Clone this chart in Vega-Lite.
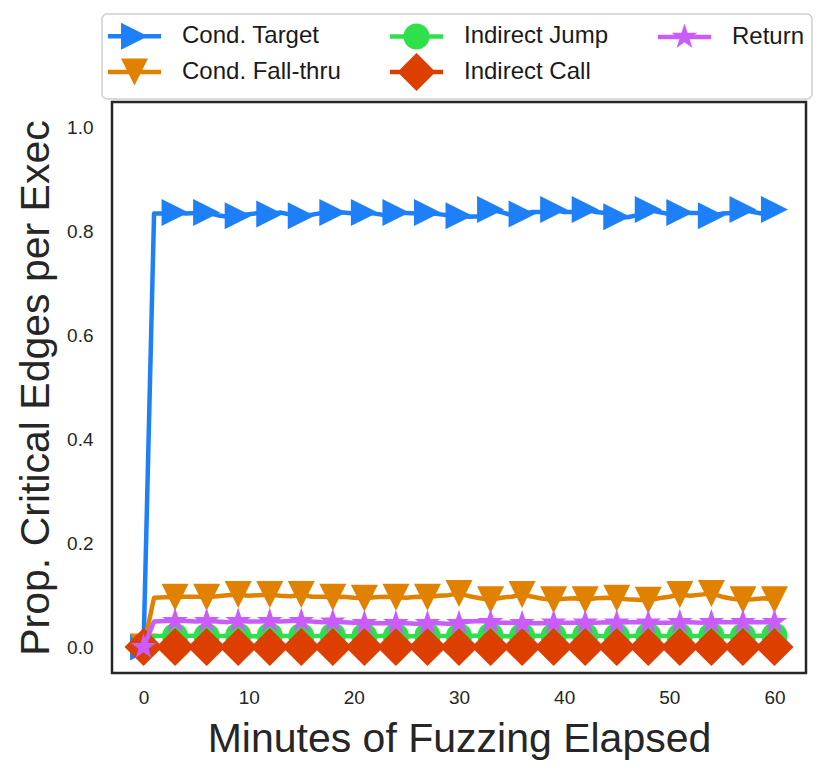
{
  "$schema": "https://vega.github.io/schema/vega-lite/v6.json",
  "width": 694,
  "height": 571,
  "autosize": {"type": "none"},
  "padding": {"left": 112, "top": 102, "right": 24, "bottom": 102},
  "background": "white",
  "config": {
    "font": "Liberation Sans",
    "view": {"stroke": "#262626", "strokeWidth": 2.5},
    "axis": {
      "grid": false,
      "domain": false,
      "ticks": false,
      "tickSize": 0,
      "labelFont": "Liberation Sans",
      "labelFontSize": 19,
      "labelColor": "#262626",
      "titleFont": "Liberation Sans",
      "titleFontSize": 41,
      "titleFontWeight": "normal",
      "titleColor": "#262626"
    },
    "legend": {
      "orient": "none",
      "legendX": -10,
      "legendY": -88,
      "direction": "horizontal",
      "columns": 3,
      "padding": 7,
      "fillColor": "white",
      "strokeColor": "#cfcfcf",
      "strokeWidth": 1.5,
      "cornerRadius": 5,
      "symbolSize": 900,
      "symbolStrokeWidth": 0,
      "symbolOpacity": 1,
      "labelFont": "Liberation Sans",
      "labelFontSize": 24,
      "labelColor": "#1a1a1a",
      "labelOffset": 43,
      "labelLimit": 300,
      "columnPadding": 48,
      "rowPadding": 2
    }
  },
  "datasets": {
    "target": [
      {"minute": 0, "value": 0}, {"minute": 1, "value": 0.835}, {"minute": 2, "value": 0.835}, {"minute": 3, "value": 0.837},
      {"minute": 4, "value": 0.835}, {"minute": 5, "value": 0.836}, {"minute": 6, "value": 0.837}, {"minute": 7, "value": 0.832},
      {"minute": 8, "value": 0.829}, {"minute": 9, "value": 0.831}, {"minute": 10, "value": 0.834}, {"minute": 11, "value": 0.836},
      {"minute": 12, "value": 0.834}, {"minute": 13, "value": 0.837}, {"minute": 14, "value": 0.833}, {"minute": 15, "value": 0.831},
      {"minute": 16, "value": 0.833}, {"minute": 17, "value": 0.836}, {"minute": 18, "value": 0.837}, {"minute": 19, "value": 0.837},
      {"minute": 20, "value": 0.835}, {"minute": 21, "value": 0.837}, {"minute": 22, "value": 0.835}, {"minute": 23, "value": 0.832},
      {"minute": 24, "value": 0.837}, {"minute": 25, "value": 0.836}, {"minute": 26, "value": 0.835}, {"minute": 27, "value": 0.837},
      {"minute": 28, "value": 0.834}, {"minute": 29, "value": 0.832}, {"minute": 30, "value": 0.831}, {"minute": 31, "value": 0.829},
      {"minute": 32, "value": 0.830}, {"minute": 33, "value": 0.843}, {"minute": 34, "value": 0.838}, {"minute": 35, "value": 0.832},
      {"minute": 36, "value": 0.834}, {"minute": 37, "value": 0.838}, {"minute": 38, "value": 0.838}, {"minute": 39, "value": 0.843},
      {"minute": 40, "value": 0.838}, {"minute": 41, "value": 0.838}, {"minute": 42, "value": 0.843}, {"minute": 43, "value": 0.838},
      {"minute": 44, "value": 0.836}, {"minute": 45, "value": 0.829}, {"minute": 46, "value": 0.828}, {"minute": 47, "value": 0.832},
      {"minute": 48, "value": 0.843}, {"minute": 49, "value": 0.838}, {"minute": 50, "value": 0.834}, {"minute": 51, "value": 0.837},
      {"minute": 52, "value": 0.836}, {"minute": 53, "value": 0.836}, {"minute": 54, "value": 0.831}, {"minute": 55, "value": 0.835},
      {"minute": 56, "value": 0.836}, {"minute": 57, "value": 0.843}, {"minute": 58, "value": 0.838}, {"minute": 59, "value": 0.834},
      {"minute": 60, "value": 0.843}
    ],
    "fallthru": [
      {"minute": 0, "value": 0}, {"minute": 1, "value": 0.095}, {"minute": 2, "value": 0.096}, {"minute": 3, "value": 0.096},
      {"minute": 4, "value": 0.097}, {"minute": 5, "value": 0.097}, {"minute": 6, "value": 0.096}, {"minute": 7, "value": 0.098},
      {"minute": 8, "value": 0.100}, {"minute": 9, "value": 0.101}, {"minute": 10, "value": 0.099}, {"minute": 11, "value": 0.100},
      {"minute": 12, "value": 0.101}, {"minute": 13, "value": 0.099}, {"minute": 14, "value": 0.098}, {"minute": 15, "value": 0.101},
      {"minute": 16, "value": 0.097}, {"minute": 17, "value": 0.097}, {"minute": 18, "value": 0.096}, {"minute": 19, "value": 0.097},
      {"minute": 20, "value": 0.095}, {"minute": 21, "value": 0.094}, {"minute": 22, "value": 0.096}, {"minute": 23, "value": 0.097},
      {"minute": 24, "value": 0.096}, {"minute": 25, "value": 0.095}, {"minute": 26, "value": 0.097}, {"minute": 27, "value": 0.096},
      {"minute": 28, "value": 0.099}, {"minute": 29, "value": 0.100}, {"minute": 30, "value": 0.103}, {"minute": 31, "value": 0.098},
      {"minute": 32, "value": 0.094}, {"minute": 33, "value": 0.091}, {"minute": 34, "value": 0.095}, {"minute": 35, "value": 0.097},
      {"minute": 36, "value": 0.101}, {"minute": 37, "value": 0.097}, {"minute": 38, "value": 0.093}, {"minute": 39, "value": 0.091},
      {"minute": 40, "value": 0.093}, {"minute": 41, "value": 0.094}, {"minute": 42, "value": 0.091}, {"minute": 43, "value": 0.094},
      {"minute": 44, "value": 0.095}, {"minute": 45, "value": 0.094}, {"minute": 46, "value": 0.092}, {"minute": 47, "value": 0.091},
      {"minute": 48, "value": 0.090}, {"minute": 49, "value": 0.094}, {"minute": 50, "value": 0.097}, {"minute": 51, "value": 0.101},
      {"minute": 52, "value": 0.099}, {"minute": 53, "value": 0.101}, {"minute": 54, "value": 0.103}, {"minute": 55, "value": 0.097},
      {"minute": 56, "value": 0.093}, {"minute": 57, "value": 0.091}, {"minute": 58, "value": 0.092}, {"minute": 59, "value": 0.094},
      {"minute": 60, "value": 0.091}
    ],
    "jump": [
      {"minute": 0, "value": 0}, {"minute": 1, "value": 0.021}, {"minute": 2, "value": 0.022}, {"minute": 3, "value": 0.021},
      {"minute": 4, "value": 0.022}, {"minute": 5, "value": 0.022}, {"minute": 6, "value": 0.021}, {"minute": 7, "value": 0.021},
      {"minute": 8, "value": 0.022}, {"minute": 9, "value": 0.022}, {"minute": 10, "value": 0.021}, {"minute": 11, "value": 0.021},
      {"minute": 12, "value": 0.022}, {"minute": 13, "value": 0.022}, {"minute": 14, "value": 0.021}, {"minute": 15, "value": 0.021},
      {"minute": 16, "value": 0.021}, {"minute": 17, "value": 0.022}, {"minute": 18, "value": 0.022}, {"minute": 19, "value": 0.021},
      {"minute": 20, "value": 0.021}, {"minute": 21, "value": 0.021}, {"minute": 22, "value": 0.021}, {"minute": 23, "value": 0.022},
      {"minute": 24, "value": 0.021}, {"minute": 25, "value": 0.021}, {"minute": 26, "value": 0.021}, {"minute": 27, "value": 0.022},
      {"minute": 28, "value": 0.022}, {"minute": 29, "value": 0.021}, {"minute": 30, "value": 0.021}, {"minute": 31, "value": 0.022},
      {"minute": 32, "value": 0.022}, {"minute": 33, "value": 0.022}, {"minute": 34, "value": 0.021}, {"minute": 35, "value": 0.021},
      {"minute": 36, "value": 0.021}, {"minute": 37, "value": 0.022}, {"minute": 38, "value": 0.022}, {"minute": 39, "value": 0.021},
      {"minute": 40, "value": 0.021}, {"minute": 41, "value": 0.021}, {"minute": 42, "value": 0.022}, {"minute": 43, "value": 0.022},
      {"minute": 44, "value": 0.021}, {"minute": 45, "value": 0.021}, {"minute": 46, "value": 0.021}, {"minute": 47, "value": 0.022},
      {"minute": 48, "value": 0.022}, {"minute": 49, "value": 0.022}, {"minute": 50, "value": 0.021}, {"minute": 51, "value": 0.021},
      {"minute": 52, "value": 0.021}, {"minute": 53, "value": 0.022}, {"minute": 54, "value": 0.022}, {"minute": 55, "value": 0.021},
      {"minute": 56, "value": 0.021}, {"minute": 57, "value": 0.021}, {"minute": 58, "value": 0.022}, {"minute": 59, "value": 0.022},
      {"minute": 60, "value": 0.022}
    ],
    "call": [
      {"minute": 0, "value": 0}, {"minute": 1, "value": 0}, {"minute": 2, "value": 0}, {"minute": 3, "value": 0},
      {"minute": 4, "value": 0}, {"minute": 5, "value": 0}, {"minute": 6, "value": 0}, {"minute": 7, "value": 0},
      {"minute": 8, "value": 0}, {"minute": 9, "value": 0}, {"minute": 10, "value": 0}, {"minute": 11, "value": 0},
      {"minute": 12, "value": 0}, {"minute": 13, "value": 0}, {"minute": 14, "value": 0}, {"minute": 15, "value": 0},
      {"minute": 16, "value": 0}, {"minute": 17, "value": 0}, {"minute": 18, "value": 0}, {"minute": 19, "value": 0},
      {"minute": 20, "value": 0}, {"minute": 21, "value": 0}, {"minute": 22, "value": 0}, {"minute": 23, "value": 0},
      {"minute": 24, "value": 0}, {"minute": 25, "value": 0}, {"minute": 26, "value": 0}, {"minute": 27, "value": 0},
      {"minute": 28, "value": 0}, {"minute": 29, "value": 0}, {"minute": 30, "value": 0}, {"minute": 31, "value": 0},
      {"minute": 32, "value": 0}, {"minute": 33, "value": 0}, {"minute": 34, "value": 0}, {"minute": 35, "value": 0},
      {"minute": 36, "value": 0}, {"minute": 37, "value": 0}, {"minute": 38, "value": 0}, {"minute": 39, "value": 0},
      {"minute": 40, "value": 0}, {"minute": 41, "value": 0}, {"minute": 42, "value": 0}, {"minute": 43, "value": 0},
      {"minute": 44, "value": 0}, {"minute": 45, "value": 0}, {"minute": 46, "value": 0}, {"minute": 47, "value": 0},
      {"minute": 48, "value": 0}, {"minute": 49, "value": 0}, {"minute": 50, "value": 0}, {"minute": 51, "value": 0},
      {"minute": 52, "value": 0}, {"minute": 53, "value": 0}, {"minute": 54, "value": 0}, {"minute": 55, "value": 0},
      {"minute": 56, "value": 0}, {"minute": 57, "value": 0}, {"minute": 58, "value": 0}, {"minute": 59, "value": 0},
      {"minute": 60, "value": 0}
    ],
    "ret": [
      {"minute": 0, "value": 0}, {"minute": 1, "value": 0.049}, {"minute": 2, "value": 0.050}, {"minute": 3, "value": 0.050},
      {"minute": 4, "value": 0.050}, {"minute": 5, "value": 0.049}, {"minute": 6, "value": 0.050}, {"minute": 7, "value": 0.049},
      {"minute": 8, "value": 0.048}, {"minute": 9, "value": 0.050}, {"minute": 10, "value": 0.049}, {"minute": 11, "value": 0.049},
      {"minute": 12, "value": 0.050}, {"minute": 13, "value": 0.049}, {"minute": 14, "value": 0.050}, {"minute": 15, "value": 0.050},
      {"minute": 16, "value": 0.049}, {"minute": 17, "value": 0.048}, {"minute": 18, "value": 0.049}, {"minute": 19, "value": 0.048},
      {"minute": 20, "value": 0.047}, {"minute": 21, "value": 0.046}, {"minute": 22, "value": 0.046}, {"minute": 23, "value": 0.046},
      {"minute": 24, "value": 0.046}, {"minute": 25, "value": 0.046}, {"minute": 26, "value": 0.045}, {"minute": 27, "value": 0.046},
      {"minute": 28, "value": 0.046}, {"minute": 29, "value": 0.045}, {"minute": 30, "value": 0.046}, {"minute": 31, "value": 0.049},
      {"minute": 32, "value": 0.050}, {"minute": 33, "value": 0.048}, {"minute": 34, "value": 0.047}, {"minute": 35, "value": 0.047},
      {"minute": 36, "value": 0.046}, {"minute": 37, "value": 0.046}, {"minute": 38, "value": 0.046}, {"minute": 39, "value": 0.047},
      {"minute": 40, "value": 0.047}, {"minute": 41, "value": 0.047}, {"minute": 42, "value": 0.047}, {"minute": 43, "value": 0.047},
      {"minute": 44, "value": 0.048}, {"minute": 45, "value": 0.047}, {"minute": 46, "value": 0.048}, {"minute": 47, "value": 0.048},
      {"minute": 48, "value": 0.047}, {"minute": 49, "value": 0.047}, {"minute": 50, "value": 0.047}, {"minute": 51, "value": 0.048},
      {"minute": 52, "value": 0.048}, {"minute": 53, "value": 0.047}, {"minute": 54, "value": 0.048}, {"minute": 55, "value": 0.048},
      {"minute": 56, "value": 0.048}, {"minute": 57, "value": 0.048}, {"minute": 58, "value": 0.048}, {"minute": 59, "value": 0.048},
      {"minute": 60, "value": 0.048}
    ],
    "names": [
      {"series": "Cond. Target"}, {"series": "Indirect Jump"}, {"series": "Return"},
      {"series": "Cond. Fall-thru"}, {"series": "Indirect Call"}
    ]
  },
  "encoding": {
    "x": {
      "field": "minute",
      "type": "quantitative",
      "scale": {"domain": [-3, 63], "nice": false, "zero": false},
      "axis": {"values": [0, 10, 20, 30, 40, 50, 60], "labelPadding": 15, "titlePadding": 12},
      "title": "Minutes of Fuzzing Elapsed"
    },
    "y": {
      "field": "value",
      "type": "quantitative",
      "scale": {"domain": [-0.05, 1.05], "nice": false, "zero": false},
      "axis": {"values": [0, 0.2, 0.4, 0.6, 0.8, 1.0], "format": ".1f", "labelPadding": 19, "titlePadding": 9},
      "title": "Prop. Critical Edges per Exec"
    }
  },
  "layer": [
    {
      "data": {"name": "target"},
      "layer": [
        {"mark": {"type": "line", "color": "#1e80f8", "strokeWidth": 4.5, "strokeJoin": "round"}},
        {
          "transform": [{"filter": "datum.minute % 3 === 0"}],
          "mark": {"type": "point", "shape": "M-0.9,-0.9L0.9,0L-0.9,0.9Z", "size": 900, "filled": true, "opacity": 1, "strokeWidth": 0, "color": "#1e80f8"}
        }
      ]
    },
    {
      "data": {"name": "fallthru"},
      "layer": [
        {"mark": {"type": "line", "color": "#e08200", "strokeWidth": 4.5, "strokeJoin": "round"}},
        {
          "transform": [{"filter": "datum.minute % 3 === 0"}],
          "mark": {"type": "point", "shape": "M-0.9,-0.9L0.9,-0.9L0,0.9Z", "size": 900, "filled": true, "opacity": 1, "strokeWidth": 0, "color": "#e08200"}
        }
      ]
    },
    {
      "data": {"name": "jump"},
      "layer": [
        {"mark": {"type": "line", "color": "#2ee04b", "strokeWidth": 4.5, "strokeJoin": "round"}},
        {
          "transform": [{"filter": "datum.minute % 3 === 0"}],
          "mark": {"type": "point", "shape": "M0.87,0A0.87,0.87 0 1,1 -0.87,0A0.87,0.87 0 1,1 0.87,0Z", "size": 900, "filled": true, "opacity": 1, "strokeWidth": 0, "color": "#2ee04b"}
        }
      ]
    },
    {
      "data": {"name": "call"},
      "layer": [
        {"mark": {"type": "line", "color": "#dc3f00", "strokeWidth": 4.5, "strokeJoin": "round"}},
        {
          "transform": [{"filter": "datum.minute % 3 === 0"}],
          "mark": {"type": "point", "shape": "M0,-1.27L1.27,0L0,1.27L-1.27,0Z", "size": 900, "filled": true, "opacity": 1, "strokeWidth": 0, "color": "#dc3f00"}
        }
      ]
    },
    {
      "data": {"name": "ret"},
      "layer": [
        {"mark": {"type": "line", "color": "#cb5cfb", "strokeWidth": 4.5, "strokeJoin": "round"}},
        {
          "transform": [{"filter": "datum.minute % 3 === 0"}],
          "mark": {"type": "point", "shape": "M0,-0.9L0.202,-0.278L0.856,-0.278L0.327,0.106L0.529,0.728L0,0.344L-0.529,0.728L-0.327,0.106L-0.856,-0.278L-0.202,-0.278Z", "size": 900, "filled": true, "opacity": 1, "strokeWidth": 0, "color": "#cb5cfb"}
        }
      ]
    },
    {
      "data": {"name": "names"},
      "transform": [{"filter": "false"}],
      "mark": {"type": "point", "filled": true, "opacity": 1, "strokeWidth": 0},
      "encoding": {
        "color": {
          "field": "series",
          "type": "nominal",
          "scale": {
            "domain": ["Cond. Target", "Indirect Jump", "Return", "Cond. Fall-thru", "Indirect Call"],
            "range": ["#1e80f8", "#2ee04b", "#cb5cfb", "#e08200", "#dc3f00"]
          },
          "legend": {"title": null}
        },
        "shape": {
          "field": "series",
          "type": "nominal",
          "scale": {
            "domain": ["Cond. Target", "Indirect Jump", "Return", "Cond. Fall-thru", "Indirect Call"],
            "range": [
              "M-1.07,-0.15H2.47V0.15H-1.07Z M-0.2,-0.9L1.6,0L-0.2,0.9Z",
              "M-1.07,-0.15H2.47V0.15H-1.07Z M1.57,0A0.87,0.87 0 1,1 -0.17,0A0.87,0.87 0 1,1 1.57,0Z",
              "M-1.07,-0.15H2.47V0.15H-1.07Z M0.7,-0.9L0.902,-0.278L1.556,-0.278L1.027,0.106L1.229,0.728L0.7,0.344L0.171,0.728L0.373,0.106L-0.156,-0.278L0.498,-0.278Z",
              "M-1.07,-0.15H2.47V0.15H-1.07Z M-0.2,-0.9L1.6,-0.9L0.7,0.9Z",
              "M-1.07,-0.15H2.47V0.15H-1.07Z M0.7,-1.27L1.97,0L0.7,1.27L-0.57,0Z"
            ]
          },
          "legend": {"title": null}
        }
      }
    }
  ]
}
